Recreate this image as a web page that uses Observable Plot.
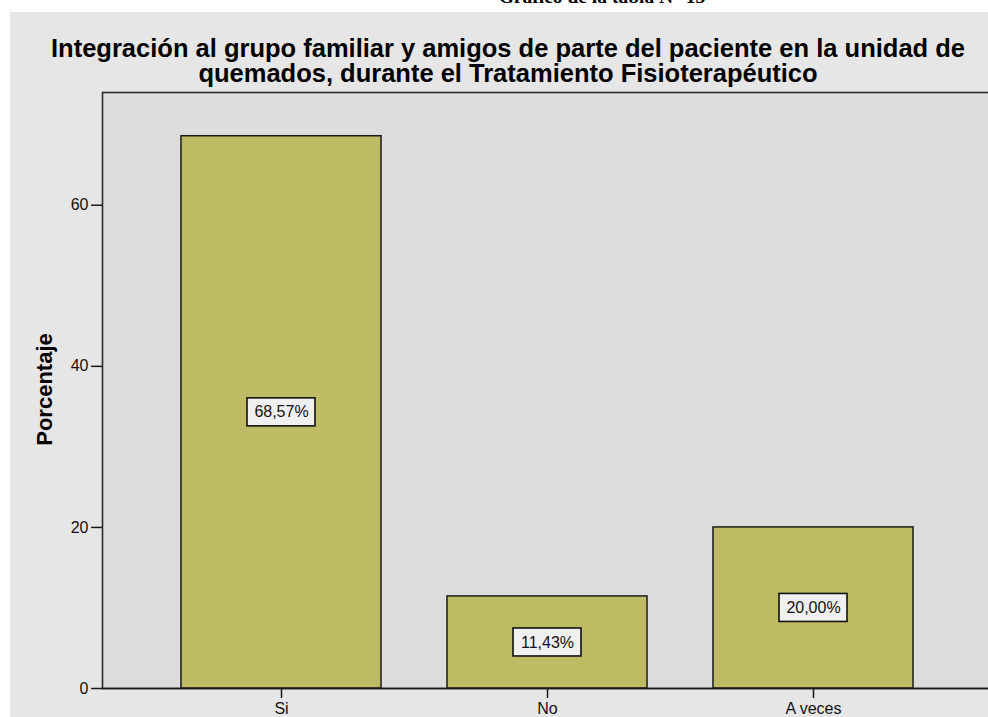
<!DOCTYPE html>
<html>
<head>
<meta charset="utf-8">
<script src="https://cdn.jsdelivr.net/npm/d3@7"></script>
<script src="https://cdn.jsdelivr.net/npm/@observablehq/plot@0.6"></script>
<style>
  html, body { margin: 0; padding: 0; background: #ffffff; width: 988px; height: 717px; overflow: hidden; }
  #heading { position: absolute; top: -13px; left: 402px; width: 400px; text-align: center;
    font-family: "Liberation Serif", "DejaVu Serif", serif; font-weight: bold; font-size: 19.5px; line-height: 20px; color: #000; }
  #panel { position: absolute; left: 10px; top: 12px; width: 978px; height: 705px; background: #e6e6e6; overflow: hidden; }
  #title { height: 78px; box-sizing: border-box; padding-top: 24px; padding-left: 18px; text-align: center; white-space: nowrap;
    font-family: "Liberation Sans", Arial, sans-serif; font-weight: bold; font-size: 25.5px; line-height: 25px; color: #000; }
  #chart svg { display: block; overflow: visible; }
</style>
</head>
<body>
<div id="heading">Gráfico de la tabla N° 13</div>
<div id="panel">
  <div id="title">Integración al grupo familiar y amigos de parte del paciente en la unidad de<br>quemados, durante el Tratamiento Fisioterapéutico</div>
  <div id="chart"></div>
</div>
<script>
const categories = ["Si", "No", "A veces"];
const percentages = [68.57, 11.43, 20.00];
const valueLabels = ["68,57%", "11,43%", "20,00%"];
const yTicks = [0, 20, 40, 60];
const yLabel = "Porcentaje";

const data = categories.map((c, i) => ({cat: c, v: percentages[i], label: valueLabels[i]}));

const chart = Plot.plot({
  width: 978,
  height: 627,
  marginTop: 2,
  marginLeft: 92,
  marginRight: 0,
  marginBottom: 29,
  style: {background: "transparent", fontFamily: "'Liberation Sans', Arial, sans-serif", fontSize: "16px", color: "#111"},
  x: {domain: categories, paddingInner: 0.25, paddingOuter: 0.2842, align: 0.514, label: null},
  y: {domain: [0, 74], label: null},
  marks: [
    Plot.frame({fill: "#dcdcdc", stroke: "#2a2a2a", strokeWidth: 1.6, insetRight: -4}),
    Plot.barY(data, {x: "cat", y: "v", fill: "#bfbb65", stroke: "#1a1a1a", strokeWidth: 1.5}),
    Plot.barY(data, {x: "cat", y1: d => d.v / 2, y2: d => d.v / 2, insetLeft: 66, insetRight: 66, insetTop: -14, insetBottom: -14,
      fill: "#f0f0f0", stroke: "#111", strokeWidth: 1.6}),
    Plot.text(data, {x: "cat", y: d => d.v / 2, text: "label", fontSize: 16, fill: "#111"}),
    Plot.ruleY([0], {stroke: "#1a1a1a", strokeWidth: 1.6}),
    Plot.axisY({ticks: yTicks, tickSize: 11, tickPadding: 3, label: null, fontSize: 16, stroke: "#1a1a1a", strokeWidth: 1.5}),
    Plot.axisX({tickSize: 10, tickPadding: 4, label: null, fontSize: 16, stroke: "#1a1a1a", strokeWidth: 1.5}),
    Plot.text([yLabel], {frameAnchor: "left", textAnchor: "middle", dx: -58, dy: -1, rotate: -90, fontSize: 22, fontWeight: "bold", fill: "#000"})
  ]
});
document.getElementById("chart").appendChild(chart);
</script>
</body>
</html>
